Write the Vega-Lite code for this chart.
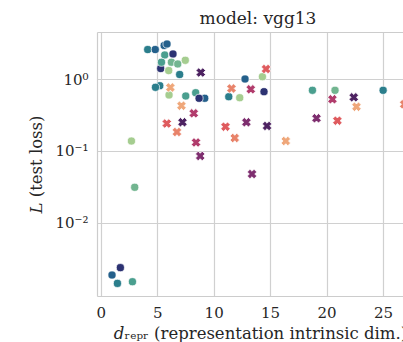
{
  "$schema": "https://vega.github.io/schema/vega-lite/v6.json",
  "width": 306,
  "height": 264,
  "autosize": {"type": "none"},
  "padding": {"left": 97, "top": 32, "right": 0, "bottom": 46},
  "background": "white",
  "config": {
    "font": "DejaVu Serif",
    "view": {"stroke": null},
    "axis": {
      "labelFont": "DejaVu Serif",
      "titleFont": "DejaVu Serif",
      "labelColor": "#262626",
      "titleColor": "#262626",
      "labelFontSize": 15,
      "titleFontSize": 16.5,
      "titleFontWeight": "normal",
      "gridColor": "#d0d0d0",
      "gridWidth": 1.2,
      "domainColor": "#cccccc",
      "domainWidth": 1.2,
      "ticks": false,
      "tickSize": 0
    }
  },
  "title": {
    "text": "model: vgg13",
    "font": "DejaVu Serif",
    "fontSize": 17,
    "fontWeight": "normal",
    "color": "#262626",
    "anchor": "middle",
    "dx": 8,
    "offset": 4
  },
  "datasets": {
    "circles": [
      {"x": 5.31, "y": 1.40, "c": "c_n"},
      {"x": 4.16, "y": 2.57, "c": "c_t"},
      {"x": 4.83, "y": 2.57, "c": "c_b"},
      {"x": 5.62, "y": 2.93, "c": "c_b"},
      {"x": 5.87, "y": 3.07, "c": "c_b"},
      {"x": 5.67, "y": 2.16, "c": "c_tg"},
      {"x": 6.40, "y": 2.23, "c": "c_n"},
      {"x": 7.49, "y": 1.82, "c": "c_lg"},
      {"x": 6.02, "y": 1.31, "c": "c_lg"},
      {"x": 5.38, "y": 1.71, "c": "c_tg"},
      {"x": 6.26, "y": 1.71, "c": "c_g"},
      {"x": 6.82, "y": 1.62, "c": "c_g"},
      {"x": 6.99, "y": 1.155, "c": "c_t"},
      {"x": 5.23, "y": 0.807, "c": "c_t"},
      {"x": 4.85, "y": 0.766, "c": "c_t"},
      {"x": 6.05, "y": 0.599, "c": "c_lg"},
      {"x": 7.53, "y": 0.580, "c": "c_tg"},
      {"x": 8.41, "y": 0.645, "c": "c_tg"},
      {"x": 9.21, "y": 0.539, "c": "c_b"},
      {"x": 8.71, "y": 0.539, "c": "c_n"},
      {"x": 2.72, "y": 0.137, "c": "c_lg"},
      {"x": 3.01, "y": 0.0311, "c": "c_g"},
      {"x": 1.74, "y": 0.00237, "c": "c_n"},
      {"x": 1.00, "y": 0.00187, "c": "c_b"},
      {"x": 1.48, "y": 0.00143, "c": "c_t"},
      {"x": 2.81, "y": 0.00151, "c": "c_tg"},
      {"x": 12.78, "y": 1.0, "c": "c_b"},
      {"x": 14.32, "y": 1.076, "c": "c_lg"},
      {"x": 11.34, "y": 0.567, "c": "c_t"},
      {"x": 12.31, "y": 0.549, "c": "c_lg"},
      {"x": 14.46, "y": 0.666, "c": "c_n"},
      {"x": 18.75, "y": 0.696, "c": "c_tg"},
      {"x": 20.75, "y": 0.696, "c": "c_g"},
      {"x": 25.01, "y": 0.696, "c": "c_t"}
    ],
    "crosses": [
      {"x": 8.86, "y": 1.23, "c": "x_dp"},
      {"x": 6.17, "y": 0.762, "c": "x_pe"},
      {"x": 7.15, "y": 0.425, "c": "x_pe"},
      {"x": 8.24, "y": 0.333, "c": "x_ma"},
      {"x": 5.85, "y": 0.240, "c": "x_re"},
      {"x": 7.24, "y": 0.250, "c": "x_dp"},
      {"x": 6.75, "y": 0.183, "c": "x_or"},
      {"x": 8.44, "y": 0.131, "c": "x_ma"},
      {"x": 8.81, "y": 0.0848, "c": "x_pu"},
      {"x": 14.64, "y": 1.378, "c": "x_re"},
      {"x": 11.58, "y": 0.738, "c": "x_or"},
      {"x": 13.29, "y": 0.719, "c": "x_ma"},
      {"x": 11.05, "y": 0.217, "c": "x_re"},
      {"x": 11.87, "y": 0.151, "c": "x_or"},
      {"x": 12.90, "y": 0.250, "c": "x_pu"},
      {"x": 14.73, "y": 0.222, "c": "x_dp"},
      {"x": 16.39, "y": 0.137, "c": "x_pe"},
      {"x": 13.40, "y": 0.0476, "c": "x_pu"},
      {"x": 20.52, "y": 0.522, "c": "x_ma"},
      {"x": 22.41, "y": 0.556, "c": "x_dp"},
      {"x": 22.65, "y": 0.411, "c": "x_pe"},
      {"x": 19.11, "y": 0.284, "c": "x_pu"},
      {"x": 20.96, "y": 0.263, "c": "x_re"},
      {"x": 26.88, "y": 0.445, "c": "x_or"}
    ]
  },
  "encoding": {
    "y": {
      "field": "y",
      "type": "quantitative",
      "scale": {"type": "log", "domain": [0.000955, 4.51], "nice": false},
      "axis": {
        "values": [0.01, 0.1, 1],
        "labelExpr": "datum.value >= 0.5 ? '10⁰' : (datum.value >= 0.05 ? '10⁻¹' : '10⁻²')",
        "labelPadding": 9,
        "title": "𝐿 (test loss)",
        "titleBaseline": "alphabetic",
        "titleX": -56,
        "titleY": 132
      }
    },
    "color": {
      "field": "c",
      "type": "nominal",
      "legend": null,
      "scale": {
        "domain": ["c_lg", "c_g", "c_tg", "c_t", "c_b", "c_n", "x_pe", "x_or", "x_re", "x_ma", "x_pu", "x_dp"],
        "range": ["#a5cd90", "#72b590", "#4a9f8f", "#2b7e8c", "#24608b", "#2c3272", "#efa77a", "#e8836a", "#df5b5e", "#b13c6c", "#7e2e6f", "#4d2261"]
      }
    }
  },
  "layer": [
    {
      "data": {"name": "circles"},
      "mark": {"type": "point", "shape": "circle", "filled": true, "size": 66, "opacity": 1, "stroke": "white", "strokeWidth": 0.7},
      "encoding": {
        "x": {
          "field": "x",
          "type": "quantitative",
          "scale": {"domain": [-0.33, 26.77], "nice": false, "zero": false},
          "axis": {
            "orient": "bottom",
            "values": [0, 5, 10, 15, 20, 25],
            "labelPadding": 9,
            "title": "𝑑ᵣₑₚᵣ (representation intrinsic dim.)",
            "titleBaseline": "alphabetic",
            "titleX": 163,
            "titleY": 42
          }
        }
      }
    },
    {
      "data": {"name": "crosses"},
      "mark": {"type": "point", "shape": "cross", "angle": 45, "filled": true, "size": 92, "opacity": 1, "stroke": "white", "strokeWidth": 0.7},
      "encoding": {
        "x": {
          "field": "x",
          "type": "quantitative",
          "scale": {"domain": [-0.33, 26.77], "nice": false, "zero": false},
          "axis": {
            "orient": "top",
            "labels": false,
            "grid": false,
            "domain": true,
            "ticks": false,
            "title": null
          }
        }
      }
    }
  ],
  "resolve": {"axis": {"x": "independent"}}
}
